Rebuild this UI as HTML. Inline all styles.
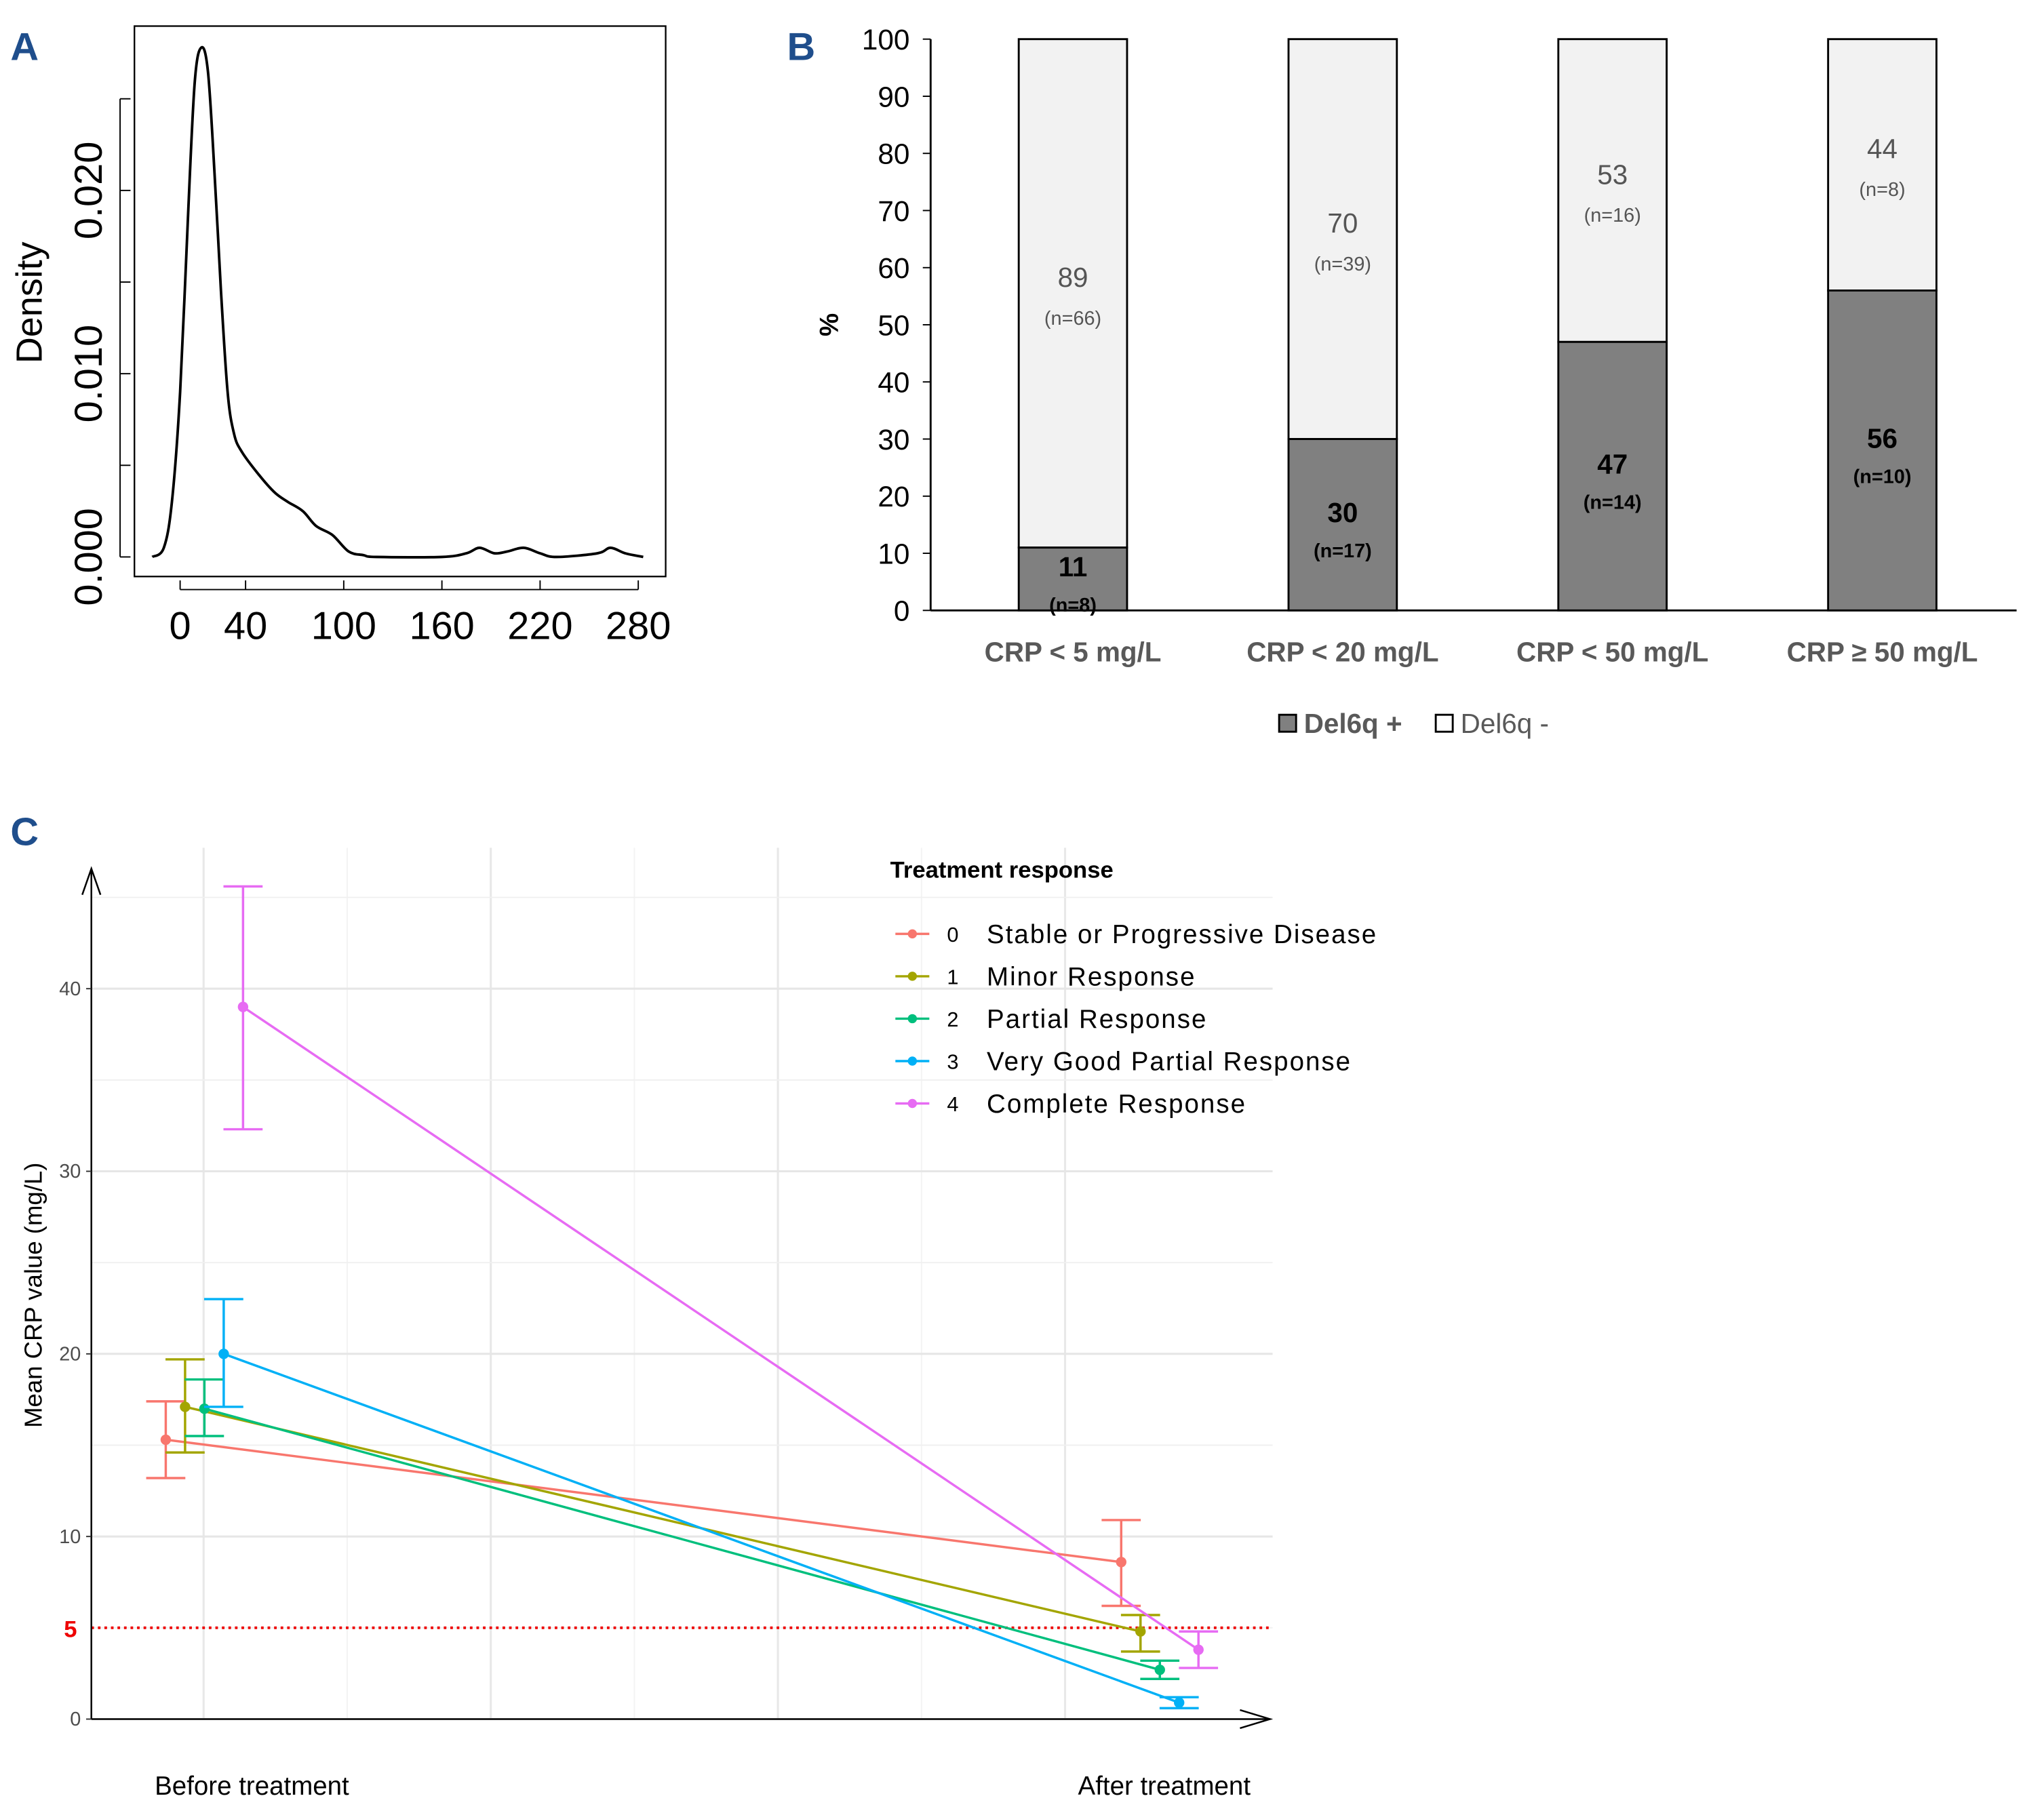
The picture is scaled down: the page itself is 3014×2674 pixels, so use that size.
<!DOCTYPE html>
<html><head><meta charset="utf-8"><style>
html,body{margin:0;padding:0;background:#fff}
svg{display:block;font-family:"Liberation Sans",sans-serif}
</style></head><body>
<svg id="fig" width="3014" height="2674" viewBox="0 0 1566 1390" preserveAspectRatio="none" xmlns="http://www.w3.org/2000/svg">
<g id="pa"></g>
<g id="pb"></g>
<g id="pc"></g>
</svg>
<script>
// ---------- Panel A data ----------
const densX = [-17,-10,-5,0,5,9,13,17,21,25,29,33,38,48,58,66,75,83,93,103,112,120,160,175,183,192,200,210,220,230,255,263,272,283];
const densY = [0,0.0005,0.003,0.009,0.019,0.026,0.0278,0.0265,0.021,0.0145,0.009,0.0067,0.0057,0.0045,0.0035,0.003,0.0025,0.0017,0.0012,0.0003,0.0001,0,0,0.0002,0.0005,0.0002,0.0003,0.0005,0.0002,0,0.0002,0.0005,0.0002,0];
const aXTicks = [0,40,100,160,220,280];
const aYTicks = [0,0.010,0.020];
const aYMinor = [0.005,0.015,0.025];
// ---------- Panel B data ----------
const bCats = ["CRP < 5 mg/L","CRP < 20 mg/L","CRP < 50 mg/L","CRP \u2265 50 mg/L"];
const bPos = [11,30,47,56];
const bNeg = [89,70,53,44];
const bPosN = ["(n=8)","(n=17)","(n=14)","(n=10)"];
const bNegN = ["(n=66)","(n=39)","(n=16)","(n=8)"];
const bTicks = [0,10,20,30,40,50,60,70,80,90,100];
// ---------- Panel C data ----------
const cGroups = ["0","1","2","3","4"];
const cNames = ["Stable or Progressive Disease","Minor Response","Partial Response","Very Good Partial Response","Complete Response"];
const cBefore = [15.3,17.1,17.0,20.0,39.0];
const cAfter = [8.6,4.8,2.7,0.9,3.8];
const cBeforeLo = [13.2,14.6,15.5,17.1,32.3];
const cBeforeHi = [17.4,19.7,18.6,23.0,45.6];
const cAfterLo = [6.2,3.7,2.2,0.6,2.8];
const cAfterHi = [10.9,5.7,3.2,1.2,4.8];
const cTicks = [0,10,20,30,40];
const cColors = ["#F8766D","#A3A500","#00BF7D","#00B0F6","#E76BF3"];

const NS="http://www.w3.org/2000/svg";
function mk(parent,tag,attrs,text){const e=document.createElementNS(NS,tag);for(const k in attrs)e.setAttribute(k,attrs[k]);if(text!==undefined)e.textContent=text;parent.appendChild(e);return e;}

// ===== Panel A =====
const pa=document.getElementById('pa');
const ax=v=>138+(v-0)*(489-138)/280;
const ay=v=>427-v*14050;
let t=mk(pa,'text',{x:8,y:46,'font-size':30,'font-weight':'bold',fill:'#1f4e8c'},'A');


let r=mk(pa,'rect',{x:103,y:20,width:407,height:422,fill:'none',stroke:'#000','stroke-width':1.2});


mk(pa,'line',{x1:92,x2:92,y1:ay(0),y2:ay(0.025),stroke:'#000','stroke-width':1});
aYTicks.concat(aYMinor).forEach(v=>{mk(pa,'line',{x1:92,x2:100,y1:ay(v),y2:ay(v),stroke:'#000'});});
aYTicks.forEach(v=>{const tt=mk(pa,'text',{x:78,y:ay(v),'font-size':30,'text-anchor':'middle',transform:`rotate(-90 78 ${ay(v)})`},v.toFixed(3));

});
t=mk(pa,'text',{x:32,y:232,'font-size':28,'text-anchor':'middle',transform:'rotate(-90 32 232)'},'Density');


mk(pa,'line',{x1:ax(0),x2:ax(280),y1:452,y2:452,stroke:'#000'});
aXTicks.forEach(v=>{mk(pa,'line',{x1:ax(v),x2:ax(v),y1:445,y2:452,stroke:'#000'});
const tt=mk(pa,'text',{x:ax(v),y:490,'font-size':30,'text-anchor':'middle'},String(v));

});
const P=densX.map((x,i)=>[ax(x),ay(densY[i])]);
let d='M'+P[0][0].toFixed(1)+','+P[0][1].toFixed(1);
for(let i=0;i<P.length-1;i++){const p0=P[i-1]||P[i],p1=P[i],p2=P[i+1],p3=P[i+2]||p2;
const c1=[p1[0]+(p2[0]-p0[0])/6,p1[1]+(p2[1]-p0[1])/6],c2=[p2[0]-(p3[0]-p1[0])/6,p2[1]-(p3[1]-p1[1])/6];
d+=`C${c1[0].toFixed(1)},${c1[1].toFixed(1)} ${c2[0].toFixed(1)},${c2[1].toFixed(1)} ${p2[0].toFixed(1)},${p2[1].toFixed(1)}`;}
let p=mk(pa,'path',{d:d,fill:'none',stroke:'#000','stroke-width':2,'stroke-linejoin':'round'});



// ===== Panel B =====
const pb=document.getElementById('pb');
const by=v=>468-v*4.38;
const bx=i=>822+i*206.7;
t=mk(pb,'text',{x:603,y:46,'font-size':30,'font-weight':'bold',fill:'#1f4e8c'},'B');


mk(pb,'line',{x1:713,x2:713,y1:by(0),y2:by(100),stroke:'#000','stroke-width':1.5});
mk(pb,'line',{x1:713,x2:1545,y1:by(0),y2:by(0),stroke:'#000','stroke-width':1.5});
bTicks.forEach(v=>{mk(pb,'line',{x1:707,x2:713,y1:by(v),y2:by(v),stroke:'#000'});
const tt=mk(pb,'text',{x:697,y:by(v)+8,'font-size':22,'text-anchor':'end'},String(v));

});
t=mk(pb,'text',{x:642,y:249,'font-size':20,'font-weight':'bold','text-anchor':'middle',transform:'rotate(-90 642 249)'},'%');


bCats.forEach((c,i)=>{const cx=bx(i),w=83;
let b=mk(pb,'rect',{x:cx-w/2,y:by(100),width:w,height:by(bPos[i])-by(100),fill:'#f2f2f2',stroke:'#000','stroke-width':1.5});


b=mk(pb,'rect',{x:cx-w/2,y:by(bPos[i]),width:w,height:by(0)-by(bPos[i]),fill:'#808080',stroke:'#000','stroke-width':1.5});


const pm=by(bPos[i]/2)-3;
let l=mk(pb,'text',{x:cx,y:pm+1,'font-size':21,'font-weight':'bold','text-anchor':'middle'},String(bPos[i]));


mk(pb,'text',{x:cx,y:pm+28,'font-size':15,'font-weight':'bold','text-anchor':'middle'},bPosN[i]);
const nm=by(bPos[i]+bNeg[i]/2)-5;
l=mk(pb,'text',{x:cx,y:nm,'font-size':21,fill:'#555','text-anchor':'middle'},String(bNeg[i]));


mk(pb,'text',{x:cx,y:nm+29,'font-size':15,fill:'#555','text-anchor':'middle'},bNegN[i]);
l=mk(pb,'text',{x:cx,y:507,'font-size':21,'font-weight':'bold',fill:'#595959','text-anchor':'middle'},c);


});
let lg=mk(pb,'rect',{x:980,y:548,width:13,height:13,fill:'#808080',stroke:'#000','stroke-width':1.5});


t=mk(pb,'text',{x:999,y:562,'font-size':21,'font-weight':'bold',fill:'#595959'},'Del6q +');


lg=mk(pb,'rect',{x:1100,y:548,width:13,height:13,fill:'#fff',stroke:'#000','stroke-width':1.5});


t=mk(pb,'text',{x:1119,y:562,'font-size':21,fill:'#595959'},'Del6q -');



// ===== Panel C =====
const pc=document.getElementById('pc');
const cy=v=>1318-v*14;
const cxB=i=>127+i*14.8, cxA=i=>859+i*14.8;
t=mk(pc,'text',{x:8,y:648,'font-size':30,'font-weight':'bold',fill:'#1f4e8c'},'C');


[156,266,376,486,596,706,816].forEach((x,i)=>mk(pc,'line',{x1:x,x2:x,y1:650,y2:1318,stroke:i%2?'#f3f3f3':'#e8e8e8','stroke-width':i%2?1:1.6}));
[0,5,10,15,20,25,30,35,40,45].forEach(v=>mk(pc,'line',{x1:70,x2:975,y1:cy(v),y2:cy(v),stroke:v%10?'#f0f0f0':'#e6e6e6','stroke-width':v%10?1:1.6}));
mk(pc,'line',{x1:70,x2:975,y1:cy(5),y2:cy(5),stroke:'#e00','stroke-width':2,'stroke-dasharray':'2,3'});
t=mk(pc,'text',{x:54,y:cy(5)+7,'font-size':18,'font-weight':'bold',fill:'#e00','text-anchor':'middle'},'5');


mk(pc,'line',{x1:70,x2:70,y1:1318,y2:666,stroke:'#000','stroke-width':1.3});
mk(pc,'path',{d:'M63,686 L70,666 L77,686',fill:'none',stroke:'#000','stroke-width':1.3});
mk(pc,'line',{x1:70,x2:972,y1:1318,y2:1318,stroke:'#000','stroke-width':1.3});
mk(pc,'path',{d:'M950,1311 L973,1318 L950,1325',fill:'none',stroke:'#000','stroke-width':1.3});
cTicks.forEach(v=>{mk(pc,'line',{x1:66,x2:70,y1:cy(v),y2:cy(v),stroke:'#333'});
const tt=mk(pc,'text',{x:62,y:cy(v)+5,'font-size':15,fill:'#4d4d4d','text-anchor':'end'},String(v));

});
t=mk(pc,'text',{x:32,y:993,'font-size':19,'text-anchor':'middle',transform:'rotate(-90 32 993)'},'Mean CRP value (mg/L)');


t=mk(pc,'text',{x:193,y:1376,'font-size':20,'text-anchor':'middle'},'Before treatment');


t=mk(pc,'text',{x:892,y:1376,'font-size':20,'text-anchor':'middle'},'After treatment');


cGroups.forEach((g,i)=>{const col=cColors[i];
const ln=mk(pc,'line',{x1:cxB(i),y1:cy(cBefore[i]),x2:cxA(i),y2:cy(cAfter[i]),stroke:col,'stroke-width':1.8});


[[cxB(i),cBeforeLo[i],cBeforeHi[i],cBefore[i]],[cxA(i),cAfterLo[i],cAfterHi[i],cAfter[i]]].forEach(([x,lo,hi,v])=>{
const eb=mk(pc,'path',{d:`M${x-15},${cy(hi)}H${x+15}M${x},${cy(hi)}V${cy(lo)}M${x-15},${cy(lo)}H${x+15}`,fill:'none',stroke:col,'stroke-width':1.8});


const pt=mk(pc,'circle',{cx:x,cy:cy(v),r:4,fill:col});

});
const ly=716+i*32.5;
mk(pc,'line',{x1:686,x2:712,y1:ly,y2:ly,stroke:col,'stroke-width':1.8});
mk(pc,'circle',{cx:699,cy:ly,r:3.5,fill:col});
mk(pc,'text',{x:730,y:ly+6,'font-size':16,'text-anchor':'middle'},g);
const le=mk(pc,'text',{x:756,y:ly+7,'font-size':20,'letter-spacing':'1.05'},cNames[i]);


});
t=mk(pc,'text',{x:682,y:673,'font-size':18,'font-weight':'bold'},'Treatment response');


</script>
</body></html>
